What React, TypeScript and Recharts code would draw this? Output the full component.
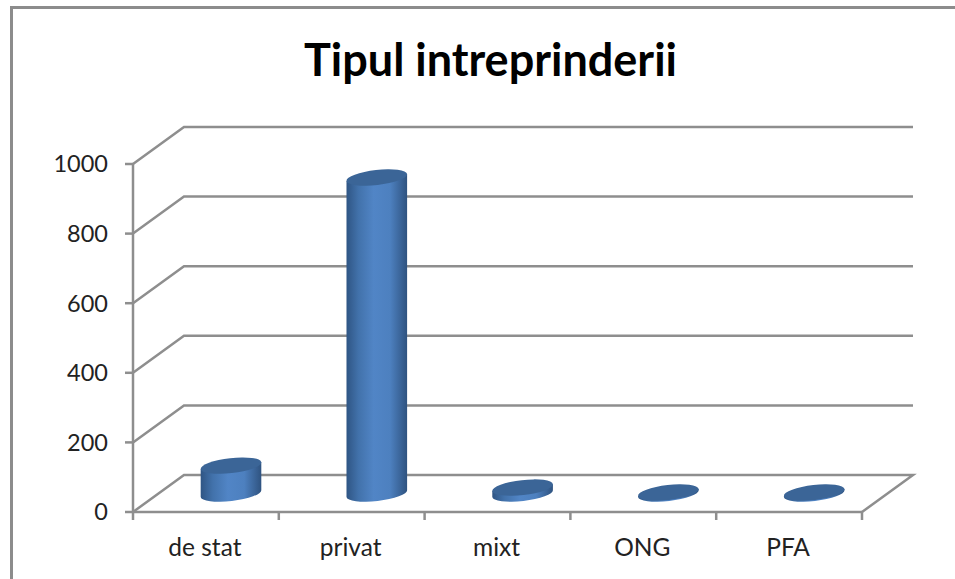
import { BarChart, Bar, XAxis, YAxis, CartesianGrid } from "recharts";

const categories = ["de stat", "privat", "mixt", "ONG", "PFA"];
const counts = [80, 908, 17, 3, 3];
const valueTicks = [0, 200, 400, 600, 800, 1000];

const WIDTH = 955;
const HEIGHT = 579;
const AXIS_LEFT = 133;
const AXIS_BOTTOM = 67;
const MARGIN = { top: 164, right: 93, bottom: 0, left: 0 };
const PLOT_W = WIDTH - AXIS_LEFT - MARGIN.right;

// Depth of the fake 3D floor, back wall sits this far up and to the right
const DEPTH_X = 51;
const DEPTH_Y = 37;
const TILT = 6.5;
const GRID = "#8e8e8e";
const LINE_W = 2.5;
const FONT = "Lato, 'Open Sans', sans-serif";

const data = categories.map((name, i) => ({ name, value: counts[i] }));

function WallLine({ x1, y1, x2 }: any) {
  const isFloor = Math.abs(y1 - (HEIGHT - AXIS_BOTTOM)) < 1;
  const pts = [
    `${x1},${y1}`,
    `${x1 + DEPTH_X},${y1 - DEPTH_Y}`,
    `${x2 + DEPTH_X},${y1 - DEPTH_Y}`,
  ];
  if (isFloor) pts.push(`${x2},${y1}`);
  return <polyline points={pts.join(" ")} fill="none" stroke={GRID} strokeWidth={LINE_W} />;
}

function Cylinder({ x, y, width, height }: any) {
  const rx = width / 2;
  const ry = 7.5;
  const cx = x + rx + DEPTH_X / 2;
  const top = y - DEPTH_Y / 2;
  const bottom = y + height - DEPTH_Y / 2;
  const a = (TILT * Math.PI) / 180;
  const dx = rx * Math.cos(a);
  const dy = rx * Math.sin(a);
  const body = [
    `M${cx - dx},${top + dy}`,
    `L${cx - dx},${bottom + dy}`,
    `A${rx},${ry} ${-TILT} 0 0 ${cx + dx},${bottom - dy}`,
    `L${cx + dx},${top - dy}`,
    "Z",
  ].join(" ");
  return (
    <g>
      <path d={body} fill="url(#cyl)" />
      <ellipse
        cx={cx}
        cy={top}
        rx={rx}
        ry={ry}
        fill="#3b6597"
        transform={`rotate(${-TILT} ${cx} ${top})`}
      />
    </g>
  );
}

function CategoryTick({ x, payload, index }: any) {
  const half = PLOT_W / categories.length / 2;
  const y = HEIGHT - AXIS_BOTTOM;
  return (
    <g>
      <line x1={x - half} y1={y} x2={x - half} y2={y + 8} stroke={GRID} strokeWidth={LINE_W} />
      {index === categories.length - 1 && (
        <line x1={x + half} y1={y} x2={x + half} y2={y + 8} stroke={GRID} strokeWidth={LINE_W} />
      )}
      <text x={x - 1} y={y + 44} textAnchor="middle" fontSize={24.5} fontFamily={FONT} fill="#222">
        {payload.value}
      </text>
    </g>
  );
}

export default function App() {
  return (
    <div style={{ position: "absolute", left: 0, top: 0, width: WIDTH, height: HEIGHT, overflow: "hidden", background: "#fff" }}>
      <div
        style={{
          position: "absolute",
          left: 10,
          top: 6,
          right: 0,
          bottom: 0,
          borderTop: "3px solid #8c8c8c",
          borderLeft: "3px solid #8c8c8c",
        }}
      />
      <div
        style={{
          position: "absolute",
          left: 0,
          width: 981,
          top: 32,
          textAlign: "center",
          fontFamily: FONT,
          fontWeight: 700,
          fontSize: 45,
          lineHeight: "54px",
          color: "#000",
        }}
      >
        Tipul intreprinderii
      </div>
      <div style={{ position: "absolute", left: 0, top: 0 }}>
        <BarChart width={WIDTH} height={HEIGHT} data={data} margin={MARGIN} barSize={61}>
          <defs>
            <linearGradient id="cyl" x1="0" y1="0" x2="1" y2="0">
              <stop offset="0" stopColor="#2f5584" />
              <stop offset="0.2" stopColor="#4272ab" />
              <stop offset="0.45" stopColor="#5185c6" />
              <stop offset="0.72" stopColor="#4d80bf" />
              <stop offset="1" stopColor="#2f5380" />
            </linearGradient>
          </defs>
          <CartesianGrid vertical={false} horizontal={<WallLine />} />
          <XAxis
            dataKey="name"
            interval={0}
            height={AXIS_BOTTOM}
            tickLine={false}
            axisLine={{ stroke: GRID, strokeWidth: LINE_W }}
            tick={(props: any) => <CategoryTick {...props} />}
          />
          <YAxis
            domain={[0, 1000]}
            ticks={valueTicks}
            width={AXIS_LEFT}
            tickSize={8}
            tickMargin={17}
            axisLine={{ stroke: GRID, strokeWidth: LINE_W }}
            tickLine={{ stroke: GRID, strokeWidth: LINE_W }}
            tick={{ fontSize: 23.5, fontFamily: FONT, fill: "#222" }}
          />
          <Bar dataKey="value" shape={<Cylinder />} isAnimationActive={false} />
        </BarChart>
      </div>
    </div>
  );
}
